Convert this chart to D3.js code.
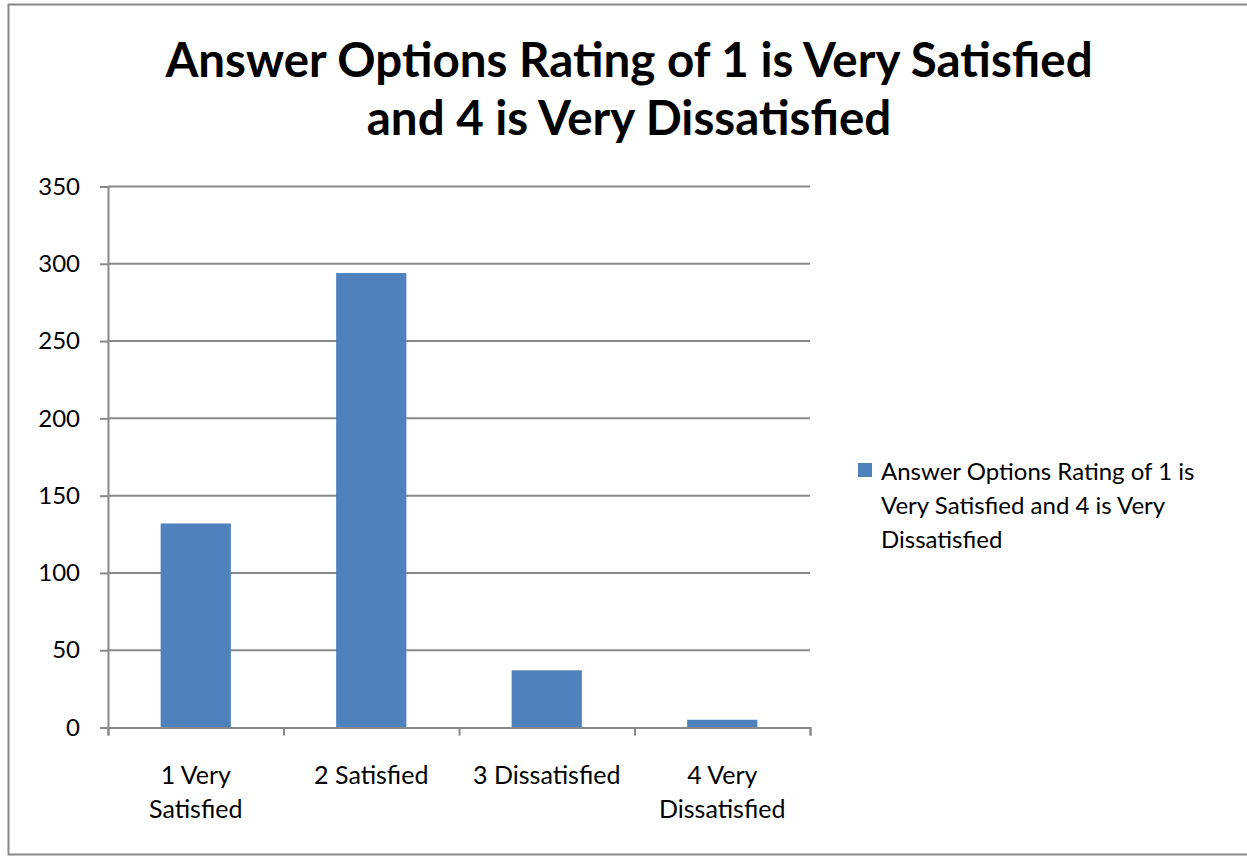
<!DOCTYPE html>
<html><head><meta charset="utf-8">
<script src="https://cdn.jsdelivr.net/npm/d3@7"></script>
<style>html,body{margin:0;padding:0;background:#fff;}svg{display:block;}</style>
</head><body>
<svg id="chart" width="1247" height="856"></svg>
<script>
const titleLines = ["Answer Options Rating of 1 is Very Satisfied", "and 4 is Very Dissatisfied"];
const categories = ["1 Very Satisfied", "2 Satisfied", "3 Dissatisfied", "4 Very Dissatisfied"];
const categoryLines = [["1 Very", "Satisfied"], ["2 Satisfied"], ["3 Dissatisfied"], ["4 Very", "Dissatisfied"]];
const values = [132, 294, 37, 5];
const yTicks = [0, 50, 100, 150, 200, 250, 300, 350];
const legendLines = ["Answer Options Rating of 1 is", "Very Satisfied and 4 is Very", "Dissatisfied"];

const font = "Lato, 'Open Sans', sans-serif";
const svg = d3.select("#chart");
const grid = "#888888", barColor = "#4F81BD";

svg.append("rect").attr("x", 8.5).attr("y", 4.5).attr("width", 1260).attr("height", 850)
  .attr("fill", "#fff").attr("stroke", "#888").attr("stroke-width", 2);

const L = 108, R = 810, T = 186.5, B = 727.5;
const x = d3.scaleBand().domain(categories).range([L, R]).paddingInner(0.6).paddingOuter(0.3);
const y = d3.scaleLinear().domain([0, 350]).range([B, T]);

// gridlines
svg.append("g").selectAll("line").data(yTicks.filter(d => d > 0)).join("line")
  .attr("x1", L).attr("x2", R).attr("y1", d => y(d)).attr("y2", d => y(d))
  .attr("stroke", grid).attr("stroke-width", 2);

// bars
svg.append("g").selectAll("rect").data(values).join("rect")
  .attr("x", (d, i) => x(categories[i])).attr("width", x.bandwidth())
  .attr("y", d => y(d)).attr("height", d => B - y(d)).attr("fill", barColor);

// y axis
const yAxis = d3.axisLeft(y).tickValues(yTicks).tickSize(8).tickPadding(20);
const gy = svg.append("g").attr("transform", `translate(${L},0)`).call(yAxis);
gy.select(".domain").attr("stroke", grid).attr("stroke-width", 2);
gy.selectAll(".tick line").attr("stroke", grid).attr("stroke-width", 2);
gy.selectAll(".tick text").attr("font-family", font).attr("font-size", 24).attr("fill", "#000");

// x axis
const xb = d3.scaleLinear().domain([0, categories.length]).range([L, R]);
const xAxis = d3.axisBottom(xb).tickValues(d3.range(0, categories.length + 1)).tickSize(8).tickFormat("");
const gx = svg.append("g").attr("transform", `translate(0,${B})`).call(xAxis);
gx.select(".domain").attr("stroke", grid).attr("stroke-width", 2);
gx.selectAll(".tick line").attr("stroke", grid).attr("stroke-width", 2);

// category labels
const cl = svg.append("g");
categories.forEach((c, i) => {
  const cx = x(c) + x.bandwidth() / 2;
  const t = cl.append("text").attr("text-anchor", "middle").attr("font-family", font)
    .attr("font-size", 25).attr("fill", "#000");
  categoryLines[i].forEach((ln, j) => {
    t.append("tspan").attr("x", cx).attr("y", 784 + j * 34).text(ln);
  });
});

// title
const tt = svg.append("text").attr("text-anchor", "middle").attr("font-family", font)
  .attr("font-weight", "bold").attr("font-size", 47.5).attr("fill", "#000");
titleLines.forEach((ln, j) => tt.append("tspan").attr("x", 629).attr("y", 77 + j * 58).text(ln));

// legend
svg.append("rect").attr("x", 858).attr("y", 463).attr("width", 14).attr("height", 14).attr("fill", barColor);
const lt = svg.append("text").attr("font-family", font).attr("font-size", 24).attr("fill", "#000");
legendLines.forEach((ln, j) => lt.append("tspan").attr("x", 881).attr("y", 480 + j * 34).text(ln));
</script>
</body></html>
